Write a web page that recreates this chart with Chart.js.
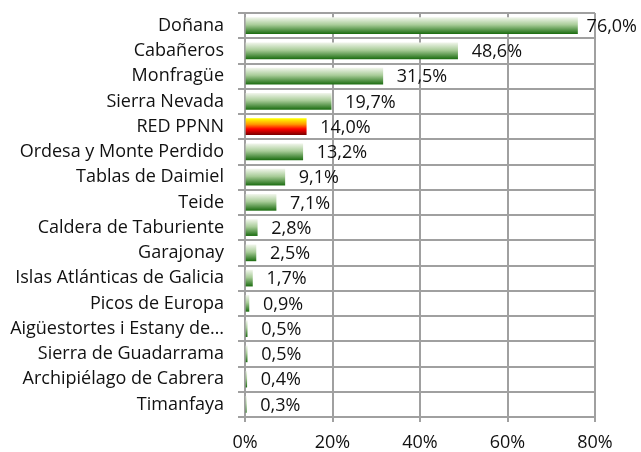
<!DOCTYPE html>
<html>
<head>
<meta charset="utf-8">
<script src="https://cdn.jsdelivr.net/npm/chart.js@4"></script>
<style>
  body { margin: 0; background: #fff; }
</style>
</head>
<body>
<canvas id="chart" width="641" height="452"></canvas>
<script>
const categories = ["Doñana", "Cabañeros", "Monfragüe", "Sierra Nevada", "RED PPNN",
    "Ordesa y Monte Perdido", "Tablas de Daimiel", "Teide", "Caldera de Taburiente",
    "Garajonay", "Islas Atlánticas de Galicia", "Picos de Europa",
    "Aigüestortes i Estany de…", "Sierra de Guadarrama", "Archipiélago de Cabrera", "Timanfaya"];
const values = [76.0, 48.6, 31.5, 19.7, 14.0, 13.2, 9.1, 7.1, 2.8, 2.5, 1.7, 0.9, 0.5, 0.5, 0.4, 0.3];
const highlight = "RED PPNN";
const xTicks = [0, 20, 40, 60, 80];

const FONT = { family: "'Open Sans', sans-serif", size: 18 };
const BAR = 16;

function barFill(ctx) {
    const chart = ctx.chart;
    const red = categories[ctx.dataIndex] === highlight;
    const y = chart.scales.y ? chart.scales.y.getPixelForValue(ctx.dataIndex) : NaN;
    if (!Number.isFinite(y)) return red ? "#ff3300" : "#6aa055";
    const g = chart.ctx.createLinearGradient(0, y - BAR / 2, 0, y + BAR / 2);
    if (red) {
        g.addColorStop(0, "#ffff00");
        g.addColorStop(0.35, "#ff9900");
        g.addColorStop(0.65, "#ff0000");
        g.addColorStop(1, "#800000");
    } else {
        g.addColorStop(0, "#eef4e8");
        g.addColorStop(0.45, "#a8cc98");
        g.addColorStop(1, "#1f6f14");
    }
    return g;
}

// value labels outside the bar end, pushed back inside the canvas if needed
const valueLabels = {
    id: "valueLabels",
    afterDatasetsDraw(chart) {
        const c = chart.ctx;
        const meta = chart.getDatasetMeta(0);
        c.save();
        c.font = FONT.size + "px " + FONT.family;
        c.fillStyle = "#111";
        c.textAlign = "left";
        c.textBaseline = "middle";
        meta.data.forEach((bar, i) => {
            const text = values[i].toFixed(1).replace(".", ",") + "%";
            const w = c.measureText(text).width;
            let x = bar.x + 14;
            if (x + w > 637) x = 637 - w;
            c.fillText(text, x, bar.y + 1);
        });
        c.restore();
    }
};

new Chart(document.getElementById("chart"), {
    type: "bar",
    data: {
        labels: categories,
        datasets: [{
            data: values,
            backgroundColor: barFill,
            barThickness: BAR,
            borderWidth: 0
        }]
    },
    options: {
        indexAxis: "y",
        responsive: false,
        animation: false,
        events: [],
        layout: { padding: { top: 13, right: 46, left: 0, bottom: 0 } },
        plugins: {
            legend: { display: false },
            tooltip: { enabled: false }
        },
        scales: {
            x: {
                min: 0,
                max: 80,
                afterBuildTicks: (scale) => { scale.ticks = xTicks.map(v => ({ value: v })); },
                afterFit: (scale) => {
                    scale.height = 35;
                    scale.paddingLeft = 0;
                    scale.paddingRight = 0;
                },
                grid: { color: "#a0a0a0", lineWidth: 2, tickLength: 5 },
                border: { display: false },
                ticks: {
                    color: "#111",
                    font: FONT,
                    padding: 10,
                    maxRotation: 0,
                    callback: (v) => v + "%"
                }
            },
            y: {
                afterFit: (scale) => {
                    scale.width = 245;
                    scale.paddingTop = 0;
                    scale.paddingBottom = 0;
                },
                grid: { color: "#a0a0a0", lineWidth: 2, tickLength: 7 },
                border: { color: "#a0a0a0", width: 2 },
                ticks: {
                    color: "#111",
                    font: FONT,
                    padding: 14,
                    autoSkip: false
                }
            }
        }
    },
    plugins: [valueLabels]
});
</script>
</body>
</html>
